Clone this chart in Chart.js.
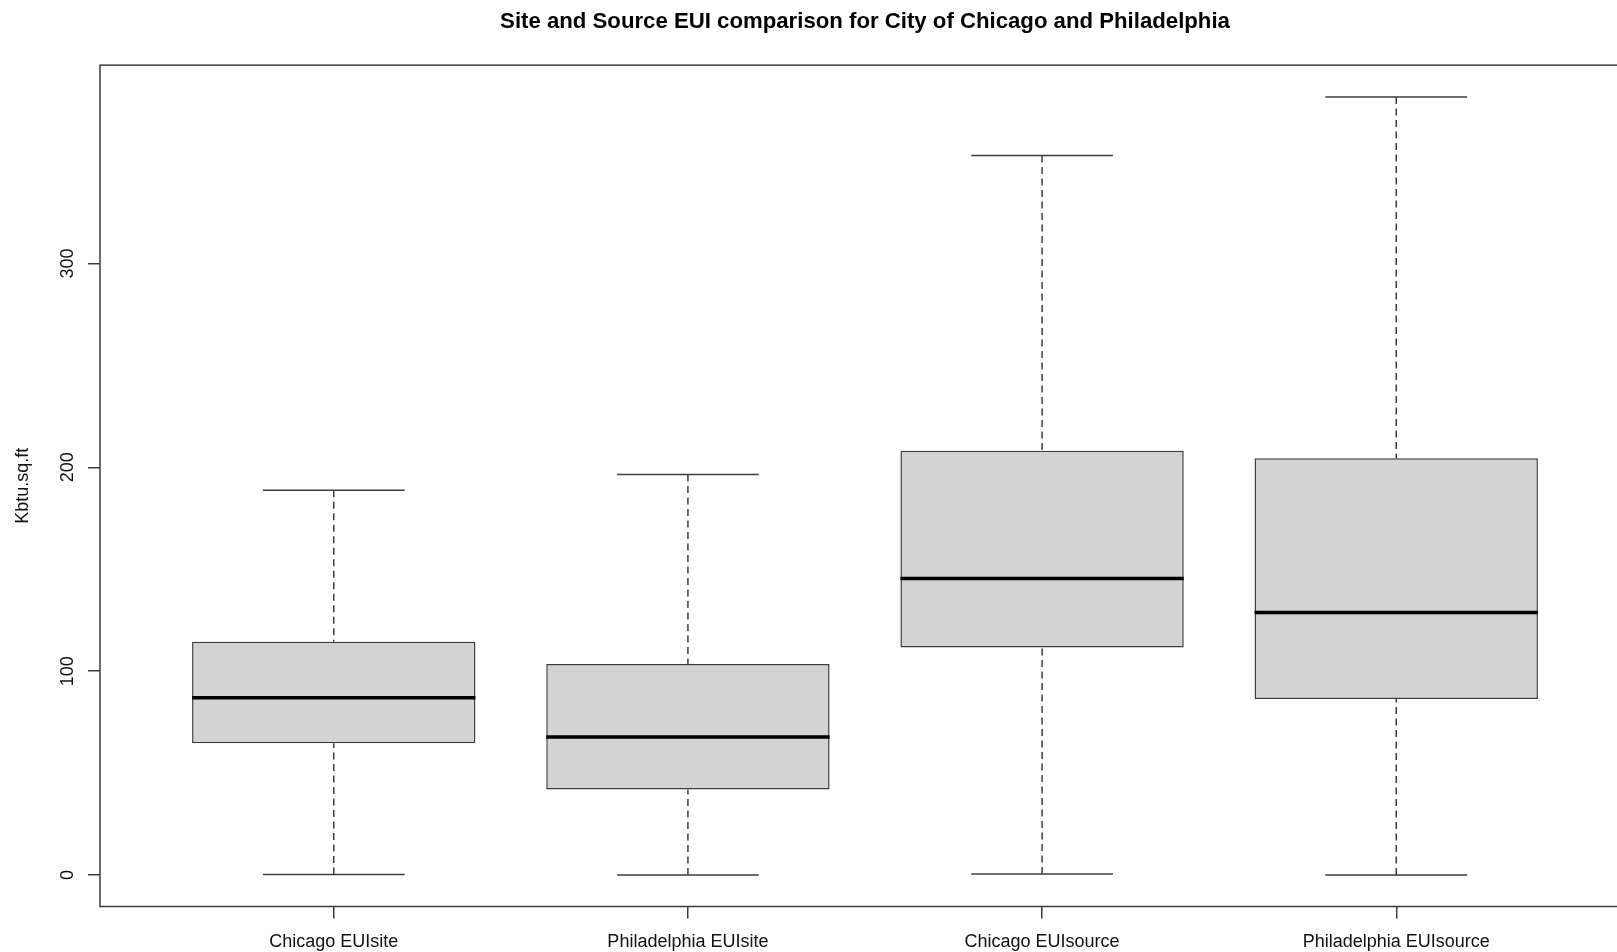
<!DOCTYPE html>
<html>
<head>
<meta charset="utf-8">
<title>Site and Source EUI comparison</title>
<script src="https://cdn.jsdelivr.net/npm/chart.js@4.4.1/dist/chart.umd.min.js"></script>
<style>
  html, body { margin: 0; padding: 0; background: #ffffff; overflow: hidden; }
  canvas { display: block; }
</style>
</head>
<body>
<canvas id="eui" width="1640" height="952"></canvas>
<script>
// Box-plot summary statistics (kBtu per sq.ft) for each group
const categories = ['Chicago EUIsite', 'Philadelphia EUIsite', 'Chicago EUIsource', 'Philadelphia EUIsource'];
const whiskerLow  = [0.2, 0, 0.5, 0];
const quartile1   = [64.6, 41.9, 111.6, 86.4];
const medians     = [87.0, 67.7, 145.5, 128.8];
const quartile3   = [114.4, 103.5, 208.1, 204.5];
const whiskerHigh = [188.7, 196.5, 353.0, 381.7];
const yTickValues = [0, 100, 200, 300];

// Drawing constants
const BOX_HALF = 0.4;     // half of the box width, in category units
const CAP_HALF = 0.2;     // half of the whisker cap width
const FONT = "'Liberation Sans', Arial, Helvetica, sans-serif";
const INK = '#3c3c3c';
const LINE_W = 1.5;

const positions = categories.map((_, i) => i + 1);

// Boxes: floating bars from Q1 to Q3
const boxData = positions.map((x, i) => ({ x: x, y: [quartile1[i], quartile3[i]] }));

// Medians: short horizontal segments across each box
const medianData = [];
positions.forEach((x, i) => {
  medianData.push({ x: x - BOX_HALF, y: medians[i] });
  medianData.push({ x: x + BOX_HALF, y: medians[i] });
  medianData.push({ x: x, y: null });
});

// Whiskers: dashed vertical segments from each extreme to the box
const whiskerData = [];
positions.forEach((x, i) => {
  whiskerData.push({ x: x, y: whiskerLow[i] });
  whiskerData.push({ x: x, y: quartile1[i] });
  whiskerData.push({ x: x, y: null });
  whiskerData.push({ x: x, y: whiskerHigh[i] });
  whiskerData.push({ x: x, y: quartile3[i] });
  whiskerData.push({ x: x, y: null });
});

// Caps at the whisker ends
const capData = [];
positions.forEach((x, i) => {
  [whiskerLow[i], whiskerHigh[i]].forEach(v => {
    capData.push({ x: x - CAP_HALF, y: v });
    capData.push({ x: x + CAP_HALF, y: v });
    capData.push({ x: x, y: null });
  });
});

// Frame around the plotting region
const plotFrame = {
  id: 'plotFrame',
  afterDatasetsDraw(chart) {
    const { ctx, chartArea: a } = chart;
    ctx.save();
    ctx.strokeStyle = INK;
    ctx.lineWidth = LINE_W;
    ctx.strokeRect(a.left, a.top, a.right - a.left, a.bottom - a.top);
    ctx.restore();
  }
};

new Chart(document.getElementById('eui'), {
  type: 'bar',
  data: {
    datasets: [
      {
        type: 'bar',
        data: boxData,
        backgroundColor: '#D3D3D3',
        borderColor: INK,
        borderWidth: LINE_W,
        borderSkipped: false,
        barPercentage: 2 * BOX_HALF,
        categoryPercentage: 1,
        order: 4
      },
      {
        type: 'line',
        data: whiskerData,
        borderColor: INK,
        borderWidth: LINE_W,
        borderDash: [7, 4.5],
        pointRadius: 0,
        spanGaps: false,
        fill: false,
        order: 3
      },
      {
        type: 'line',
        data: capData,
        borderColor: INK,
        borderWidth: LINE_W,
        pointRadius: 0,
        spanGaps: false,
        fill: false,
        order: 2
      },
      {
        type: 'line',
        data: medianData,
        borderColor: '#000000',
        borderWidth: 3.5,
        borderCapStyle: 'butt',
        pointRadius: 0,
        spanGaps: false,
        fill: false,
        order: 1
      }
    ]
  },
  options: {
    responsive: false,
    devicePixelRatio: 1,
    animation: false,
    layout: { padding: { left: 0, right: 10, top: 0, bottom: 0 } },
    plugins: {
      legend: { display: false },
      tooltip: { enabled: false },
      title: {
        display: true,
        fullSize: false,
        text: 'Site and Source EUI comparison for City of Chicago and Philadelphia',
        color: '#000000',
        font: { family: FONT, size: 22.2, weight: 'bold' },
        padding: { top: 8.4, bottom: 30.1 }
      }
    },
    scales: {
      x: {
        type: 'linear',
        min: 0.34,
        max: 4.66,
        offset: false,
        afterBuildTicks(scale) { scale.ticks = positions.map(v => ({ value: v })); },
        afterFit(scale) { scale.height = 45.5; },
        ticks: {
          autoSkip: false,
          maxRotation: 0,
          minRotation: 0,
          padding: 13,
          color: '#111111',
          font: { family: FONT, size: 18 },
          callback: (v) => categories[Math.round(v) - 1]
        },
        grid: { drawOnChartArea: false, drawTicks: true, tickLength: 12, lineWidth: LINE_W, color: INK, offset: false },
        border: { display: false }
      },
      y: {
        type: 'linear',
        min: -15.45,
        max: 397.3,
        afterBuildTicks(scale) { scale.ticks = yTickValues.map(v => ({ value: v })); },
        afterFit(scale) { scale.width = 100; },
        ticks: {
          minRotation: 90,
          maxRotation: 90,
          crossAlign: 'center',
          padding: 4.5,
          color: '#111111',
          font: { family: FONT, size: 18 },
          callback: (v) => String(v)
        },
        grid: { drawOnChartArea: false, drawTicks: true, tickLength: 12, lineWidth: LINE_W, color: INK },
        border: { display: false },
        title: {
          display: true,
          text: 'Kbtu.sq.ft',
          color: '#111111',
          font: { family: FONT, size: 18 },
          padding: { top: 12, bottom: 0 }
        }
      }
    }
  },
  plugins: [plotFrame]
});
</script>
</body>
</html>
